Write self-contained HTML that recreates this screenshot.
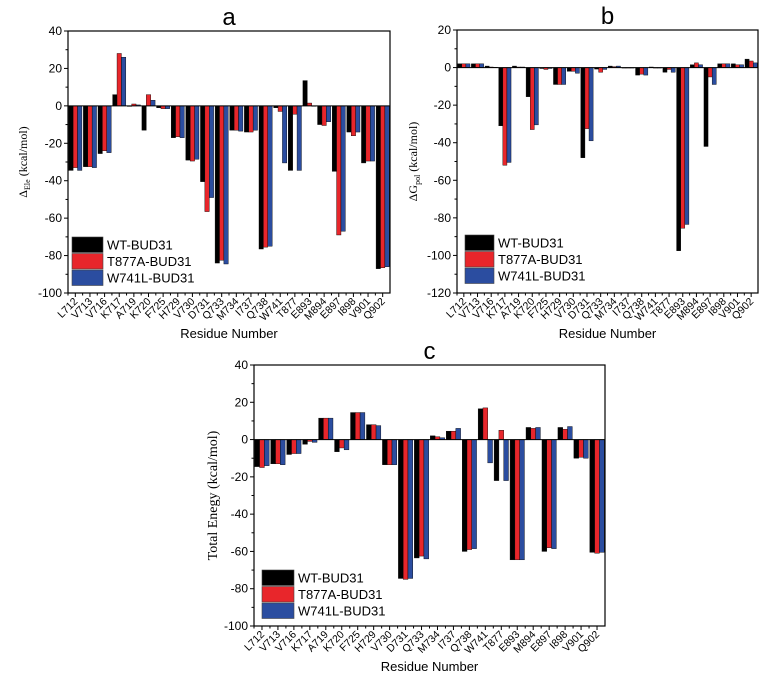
<!DOCTYPE html>
<html><head><meta charset="utf-8">
<style>
html,body{margin:0;padding:0;background:#fff;}
svg{display:block;font-family:"Liberation Sans",sans-serif;}
</style></head>
<body>
<svg id="fig" width="770" height="681" viewBox="0 0 770 681"></svg>
<script>
const categories = ["L712","V713","V716","K717","A719","K720","F725","H729","V730","D731","Q733","M734","I737","Q738","W741","T877","E893","M894","E897","I898","V901","Q902"];
const seriesNames = ["WT-BUD31","T877A-BUD31","W741L-BUD31"];
const seriesColors = ["#000000","#e8262b","#2b4da0"];
const aWT    = [-34.5,-32.5,-25.5,6,-0.3,-13,-1,-17,-29,-40.5,-84,-13,-14,-76.5,-1,-34.5,13.5,-10,-35,-14,-30.5,-87];
const aT877A = [-33,-32.5,-24,28,1,6,-1.5,-16.5,-29.5,-56.5,-82.5,-13,-14,-75.5,-3,-4.5,1.5,-10.5,-69,-16,-29.5,-86.5];
const aW741L = [-34.5,-33,-25,26,0.5,3,-1.5,-17,-28.5,-49,-84.5,-13.5,-13,-75,-30.5,-34.5,0,-8.5,-67,-14,-29.5,-86];
const bWT    = [2,2,0.8,-31,0.8,-15.5,-0.5,-9,-2,-48,-0.8,0.8,0,-4,0.3,-2.5,-97.5,1.5,-42,2,2,4.5];
const bT877A = [2,2,0.3,-52,0.3,-33,-1,-9,-2,-32.5,-2.5,0.5,0,-3.5,0,-1,-85.5,2.5,-5,2,1.5,3.5];
const bW741L = [2,2,0.2,-50.5,0.3,-30.5,-0.5,-9,-3,-39,-1,0.8,0,-4,0,-2.5,-83.5,1.5,-9,2,1.5,2.5];
const cWT    = [-14.5,-13,-8,-2.5,11.5,-6.5,14.5,8,-13.5,-74.5,-63.5,2,4.5,-60,16.5,-22,-64.5,6.5,-60,6.5,-10,-60.5];
const cT877A = [-15,-13,-7.5,-1,11.5,-4.5,14.5,8,-13.5,-75,-62.5,1.5,4.5,-59,17,5,-64.5,6,-58,5.5,-9.5,-61];
const cW741L = [-14,-13.5,-7.5,-1.5,11.5,-5.5,14.5,7.5,-13.5,-74.5,-64,1,6,-58.5,-12.5,-22,-64.5,6.5,-58.5,7,-10,-60.5];
const aTicks = [40,20,0,-20,-40,-60,-80,-100];
const bTicks = [20,0,-20,-40,-60,-80,-100,-120];
const cTicks = [40,20,0,-20,-40,-60,-80,-100];

const NS="http://www.w3.org/2000/svg";
const svg=document.getElementById('fig');
function mk(tag,attrs,parent,text){const e=document.createElementNS(NS,tag);for(const k in attrs)e.setAttribute(k,attrs[k]);if(text!==undefined)e.textContent=text;(parent||svg).appendChild(e);return e;}

function panel(o){
  const g=mk('g',{});
  
  
  const ymax=o.ticks[0], ymin=o.ticks[o.ticks.length-1];
  const y=v=>o.top+(ymax-v)/(ymax-ymin)*(o.bottom-o.top);
  const gw=(o.right-o.left)/categories.length;
  const x=i=>o.left+gw*(i+0.5);
  const bw=gw*0.3;
  const series=[o.s1,o.s2,o.s3];
  series.forEach((arr,si)=>{
    arr.forEach((v,i)=>{
      const bx=x(i)+(si-1.5)*bw;
      const y0=y(0),y1=y(v);
      const r=mk('rect',{x:bx,y:Math.min(y0,y1),width:bw,height:Math.max(0.5,Math.abs(y1-y0)),fill:seriesColors[si],stroke:'#000','stroke-width':0.4},g);
      
      
    });
  });
  mk('line',{x1:o.left,x2:o.right,y1:y(0),y2:y(0),stroke:'#000','stroke-width':1},g);
  const frame=mk('rect',{x:o.left,y:o.top,width:o.right-o.left,height:o.bottom-o.top,fill:'none',stroke:'#000','stroke-width':1.2},g);
  
  
  const yax=mk('g',{},g);
  
  
  o.ticks.forEach((t,k)=>{
    mk('line',{x1:o.left-4,x2:o.left,y1:y(t),y2:y(t),stroke:'#000','stroke-width':1},yax);
    if(k<o.ticks.length-1) mk('line',{x1:o.left-2.5,x2:o.left,y1:y(t-10),y2:y(t-10),stroke:'#000','stroke-width':1},yax);
    const tl=mk('text',{x:o.left-6,y:y(t)+4,'text-anchor':'end','font-size':12},yax,String(t));
    
    
  });
  const xax=mk('g',{},g);
  
  
  categories.forEach((c,i)=>{
    mk('line',{x1:x(i),x2:x(i),y1:o.bottom,y2:o.bottom+4,stroke:'#000','stroke-width':1},xax);
    mk('line',{x1:x(i)-gw/2,x2:x(i)-gw/2,y1:o.bottom,y2:o.bottom+2.5,stroke:'#000','stroke-width':1},xax);
    const tx=x(i)+3, ty=o.bottom+9;
    const tl=mk('text',{x:tx,y:ty,'text-anchor':'end','font-size':10.5,transform:`rotate(-45 ${tx} ${ty})`},xax,c);
    
    
  });
  const xt=mk('text',{x:(o.left+o.right)/2,y:o.bottom+45,'text-anchor':'middle','font-size':13},g,'Residue Number');
  
  
  const yc=(o.top+o.bottom)/2, yx=o.ytx;
  const yt=mk('text',{x:yx,y:yc,'text-anchor':'middle','font-size':o.ytfs,'font-family':'"Liberation Serif",serif',transform:`rotate(-90 ${yx} ${yc})`},g);
  
  
  yt.innerHTML=o.ytitle;
  const ti=mk('text',{x:(o.left+o.right)/2,y:o.top-6,'text-anchor':'middle','font-size':24},g,o.id);
  
  
  const lg=mk('g',{},g);
  
  
  seriesNames.forEach((n,si)=>{
    const ly=o.legY+si*16.5;
    mk('rect',{x:o.legX,y:ly,width:o.legW,height:15.5,fill:seriesColors[si],stroke:'#444','stroke-width':0.6},lg);
    const t=mk('text',{x:o.legX+o.legW+4,y:ly+12.5,'font-size':13},lg,n);
    
    
  });
}
panel({id:'a',left:68,right:390,top:31,bottom:293,ticks:aTicks,s1:aWT,s2:aT877A,s3:aW741L,ytx:27,ytfs:12,ytitle:'Δ<tspan font-size="8" dy="3">Ele</tspan><tspan dy="-3"> (kcal/mol)</tspan>',legX:72,legY:237,legW:31});
panel({id:'b',left:457,right:758,top:30,bottom:293,ticks:bTicks,s1:bWT,s2:bT877A,s3:bW741L,ytx:417,ytfs:12,ytitle:'ΔG<tspan font-size="8" dy="3">pol</tspan><tspan dy="-3"> (kcal/mol)</tspan>',legX:465,legY:235,legW:29});
panel({id:'c',left:254,right:605,top:365,bottom:626,ticks:cTicks,s1:cWT,s2:cT877A,s3:cW741L,ytx:217,ytfs:14,ytitle:'Total Enegy (kcal/mol)',legX:262,legY:570,legW:32});
</script>
</body></html>
